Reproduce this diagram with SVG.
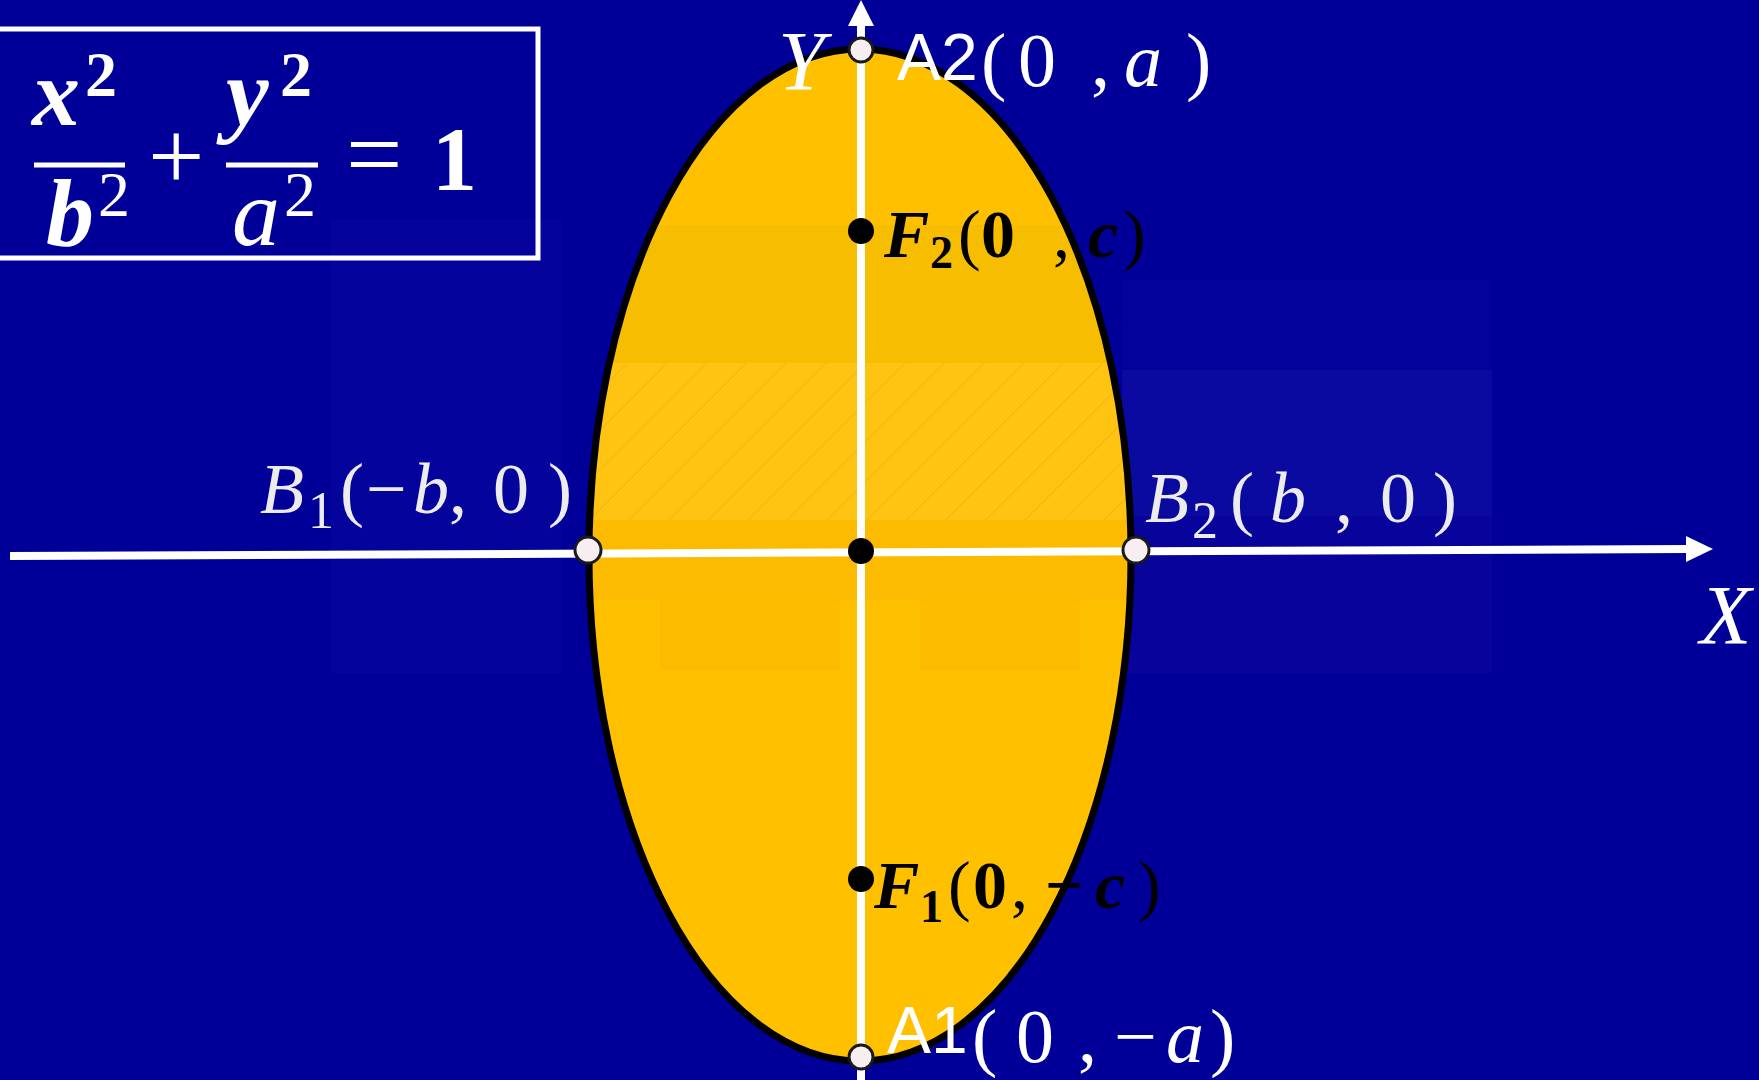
<svg xmlns="http://www.w3.org/2000/svg" width="1759" height="1080" viewBox="0 0 1759 1080">
<defs>
<style>
.serif{font-family:"Liberation Serif","DejaVu Serif",serif}
.sans{font-family:"Liberation Sans",Arial,sans-serif}
.w{fill:#ffffff}
.lw{fill:#ececec}
.k{fill:#000000}
.it{font-style:italic}
.bd{font-weight:bold}
.ax{stroke:#ffffff;stroke-width:8;fill:none}
.pt{fill:#f6eef0;stroke:#1a1a1a;stroke-width:3}
.dot{fill:#000000}
.wm{stroke:none}
</style>
<clipPath id="ellclip"><ellipse cx="860" cy="555" rx="271" ry="506"/></clipPath>
<pattern id="hatch" width="28" height="28" patternUnits="userSpaceOnUse" patternTransform="rotate(45)">
<line x1="0" y1="0" x2="0" y2="28" stroke="#000000" stroke-opacity="0.06" stroke-width="2"/>
</pattern>
</defs>
<rect x="0" y="0" width="1759" height="1080" fill="#000099"/>

<g id="watermark-bg" opacity="0.3">
<rect class="wm" x="331" y="219" width="230" height="454" fill="#0d0da6"/>
<rect class="wm" x="1122" y="280" width="370" height="90" fill="#0a0aa2"/>
<rect class="wm" x="1122" y="370" width="370" height="146" fill="#2323b3"/>
<rect class="wm" x="1122" y="516" width="370" height="157" fill="#1a0aa0"/>
</g>

<g id="ellipse">
<ellipse cx="860" cy="555" rx="271" ry="506" fill="#FFC000"/>
<g clip-path="url(#ellclip)">
<rect x="580" y="225" width="560" height="138" fill="#e0b400" opacity="0.25"/>
<rect x="580" y="363" width="560" height="157" fill="#ffcb2a" opacity="0.4"/>
<rect x="580" y="363" width="560" height="157" fill="url(#hatch)"/>
<rect x="580" y="520" width="560" height="80" fill="#f3a800" opacity="0.25"/>
<rect x="660" y="600" width="180" height="70" fill="#f3a800" opacity="0.2"/>
<rect x="920" y="600" width="160" height="70" fill="#f3a800" opacity="0.2"/>
</g>
</g>

<g id="formula-box">
<rect x="-5" y="29" width="543" height="229" fill="none" stroke="#ffffff" stroke-width="5"/>
<g class="serif w">
<text x="32" y="125" font-size="96" class="it bd">x</text>
<text x="85" y="96" font-size="64" class="bd">2</text>
<line x1="34" y1="165" x2="125" y2="165" stroke="#fff" stroke-width="5"/>
<text x="46" y="245" font-size="96" class="it bd">b</text>
<text x="98" y="216" font-size="64">2</text>
<text x="148" y="190" font-size="100">+</text>
<text x="226" y="125" font-size="96" class="it bd">y</text>
<text x="280" y="96" font-size="64" class="bd">2</text>
<line x1="226" y1="165" x2="318" y2="165" stroke="#fff" stroke-width="5"/>
<text x="232" y="245" font-size="96" class="it">a</text>
<text x="284" y="216" font-size="64">2</text>
<text x="346" y="188" font-size="100">=</text>
<text x="432" y="190" font-size="90" class="bd">1</text>
</g>
</g>

<g id="connectors">
<g id="x-axis">
<line x1="10" y1="556" x2="1688" y2="549" class="ax"/>
<polygon points="1686,536 1713,549 1686,562" fill="#ffffff"/>
</g>
<g id="y-axis">
<line x1="861" y1="1080" x2="861" y2="24" class="ax"/>
<polygon points="848,26 861,0 874,26" fill="#ffffff"/>
</g>
</g>

<g id="ellipse-outline">
<ellipse cx="860" cy="555" rx="271" ry="506" fill="none" stroke="#000000" stroke-width="7"/>
</g>

<g id="origin"><circle cx="861" cy="551" r="13" class="dot"/></g>

<g id="A2">
<circle cx="861" cy="50" r="12" class="pt" fill="#ffffff"/>
<text x="897" y="80" font-size="66" class="sans w">A2</text>
<text y="86" font-size="76" class="serif w"><tspan x="981">(</tspan><tspan x="1018">0</tspan><tspan x="1091">,</tspan><tspan x="1124" class="it">a</tspan><tspan x="1186">)</tspan></text>
</g>

<g id="A1">
<circle cx="861" cy="1057" r="12" class="pt"/>
<text x="887" y="1053" font-size="66" class="sans w">A1</text>
<text y="1062" font-size="76" class="serif w"><tspan x="972">(</tspan><tspan x="1016">0</tspan><tspan x="1078">,</tspan><tspan x="1114">−</tspan><tspan x="1166" class="it">a</tspan><tspan x="1210">)</tspan></text>
</g>

<g id="F2">
<circle cx="861" cy="231" r="13" class="dot"/>
<text y="257" font-size="68" class="serif k"><tspan x="884" class="it bd">F</tspan><tspan x="930" y="268" font-size="46" class="bd">2</tspan><tspan x="958" y="257">(</tspan><tspan x="981" class="bd">0</tspan><tspan x="1053">,</tspan><tspan x="1088" class="it bd">c</tspan><tspan x="1123">)</tspan></text>
</g>

<g id="F1">
<circle cx="861" cy="879" r="13" class="dot"/>
<text y="908" font-size="68" class="serif k"><tspan x="874" class="it bd">F</tspan><tspan x="920" y="922" font-size="46" class="bd">1</tspan><tspan x="948" y="908">(</tspan><tspan x="973" class="bd">0</tspan><tspan x="1011">,</tspan><tspan x="1045" class="bd">−</tspan><tspan x="1095" class="it bd">c</tspan><tspan x="1138">)</tspan></text>
</g>

<g id="B1">
<circle cx="588" cy="550" r="13" class="pt"/>
<text y="513" font-size="72" class="serif lw"><tspan x="260" class="it">B</tspan><tspan x="308" y="528" font-size="52">1</tspan><tspan x="340" y="513">(</tspan><tspan x="366">−</tspan><tspan x="413" class="it">b</tspan><tspan x="449">,</tspan><tspan x="493">0</tspan><tspan x="548">)</tspan></text>
</g>

<g id="B2">
<circle cx="1136" cy="550" r="13" class="pt"/>
<text y="522" font-size="72" class="serif lw"><tspan x="1145" class="it">B</tspan><tspan x="1192" y="538" font-size="52">2</tspan><tspan x="1230" y="522">(</tspan><tspan x="1270" class="it">b</tspan><tspan x="1335">,</tspan><tspan x="1380">0</tspan><tspan x="1433">)</tspan></text>
</g>

<g id="axis-labels">
<text x="778" y="90" font-size="84" class="serif it w">Y</text>
<text x="1700" y="644" font-size="84" class="serif it w">X</text>
</g>
</svg>
